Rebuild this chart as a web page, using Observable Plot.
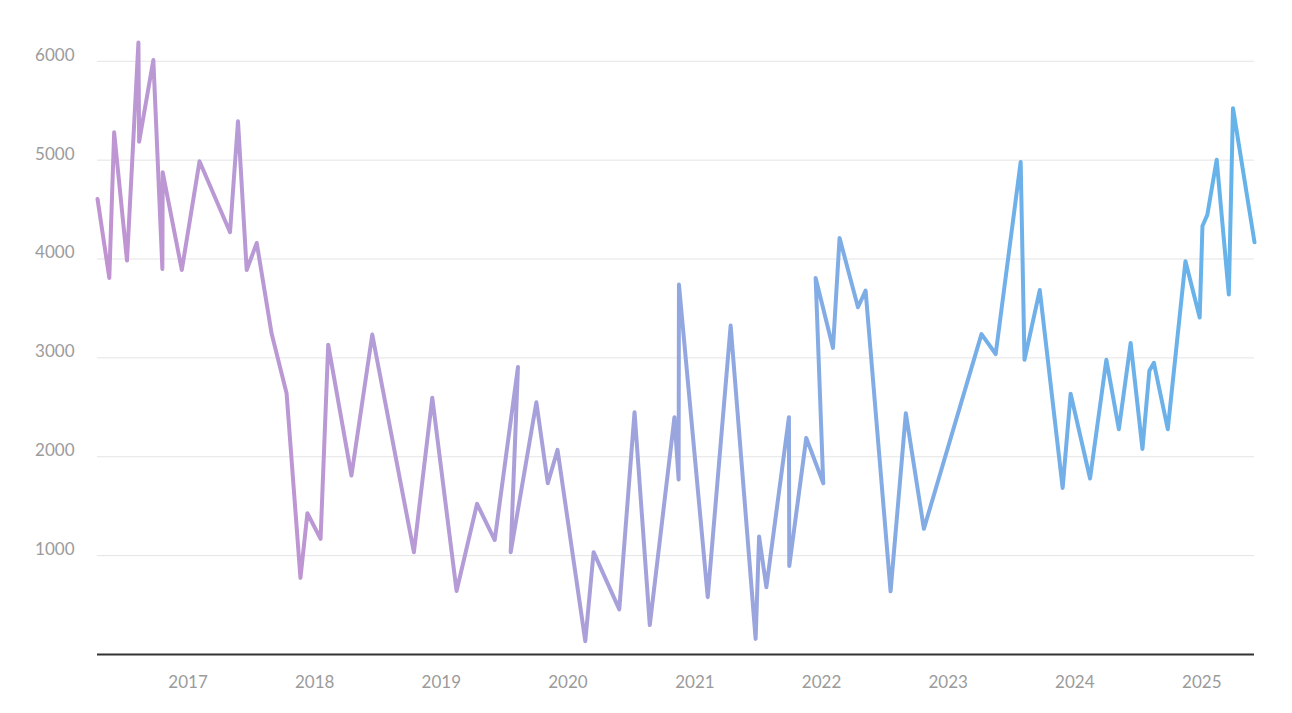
<!DOCTYPE html>
<html>
<head>
<meta charset="utf-8">
<script src="https://cdn.jsdelivr.net/npm/d3@7"></script>
<script src="https://cdn.jsdelivr.net/npm/@observablehq/plot@0.6"></script>
<style>
  html, body { margin: 0; padding: 0; background: #ffffff; }
  #chart svg { display: block; }
</style>
</head>
<body>
<div id="chart"></div>
<script>
// Observation dates (order as drawn) and values
const dates = [
  "2016-04-15","2016-05-19","2016-06-02","2016-07-09","2016-08-11","2016-08-13","2016-09-23","2016-10-19","2016-10-20","2016-12-14",
  "2017-02-03","2017-05-02","2017-05-25","2017-06-19","2017-07-18","2017-08-30","2017-10-12","2017-11-21","2017-12-11",
  "2018-01-18","2018-02-09","2018-04-17","2018-06-16","2018-10-14","2018-12-06",
  "2019-02-14","2019-04-14","2019-06-04","2019-08-10","2019-07-20","2019-10-02","2019-11-04","2019-12-02",
  "2020-02-20","2020-03-15","2020-05-28","2020-07-11","2020-08-24","2020-11-03","2020-11-15","2020-11-16",
  "2021-02-07","2021-04-14","2021-06-25","2021-07-05","2021-07-26","2021-09-29","2021-09-30","2021-11-18","2022-01-06","2021-12-15",
  "2022-02-03","2022-02-22","2022-04-16","2022-05-08","2022-07-19","2022-09-01","2022-10-23",
  "2023-04-07","2023-05-18","2023-07-29","2023-08-09","2023-09-22","2023-11-27","2023-12-20",
  "2024-02-14","2024-04-01","2024-05-07","2024-06-10","2024-07-14","2024-08-03","2024-08-16","2024-09-25","2024-11-15","2024-12-26",
  "2025-01-03","2025-01-17","2025-02-13","2025-03-20","2025-04-01","2025-06-02"
];
const values = [
  4608,3809,5281,3984,6191,5187,6013,3900,4877,3889,
  4988,4271,5393,3889,4162,3243,2643,775,1429,
  1170,3134,1810,3236,1035,2596,
  642,1524,1158,2908,1035,2551,1732,2070,
  135,1035,457,2451,298,2400,1771,3741,
  580,3327,158,1193,681,2400,895,2191,1732,3809,
  3101,4213,3512,3680,640,2440,1271,
  3240,3039,4982,2981,3686,1685,2637,
  1780,2981,2279,3151,2079,2870,2950,2279,3977,3409,
  4334,4446,5004,3641,5526,4169
];
const yTicks = [1000, 2000, 3000, 4000, 5000, 6000];
const xTickYears = [2017, 2018, 2019, 2020, 2021, 2022, 2023, 2024, 2025];
const gradientStops = [
  [0, "#c590cf"],
  [0.22, "#b79bd6"],
  [0.42, "#a0a3dc"],
  [0.6, "#86abe4"],
  [0.8, "#70b0e9"],
  [1, "#66b3ea"]
];

const data = dates.map((d, i) => ({date: new Date(d), value: values[i]}));
const xTicks = xTickYears.map(y => new Date(Date.UTC(y, 0, 1)));

const plot = Plot.plot({
  width: 1292,
  height: 713,
  marginLeft: 97,
  marginRight: 38,
  marginTop: 41,
  marginBottom: 59,
  style: {fontFamily: "Lato, 'Noto Sans', sans-serif", fontSize: "17px", background: "#ffffff", overflow: "visible"},
  x: {type: "utc", domain: d3.extent(data, d => d.date)},
  y: {domain: [0, 6200]},
  marks: [
    Plot.gridY(yTicks, {stroke: "#e4e4e4", strokeOpacity: 1, strokeWidth: 1}),
    Plot.ruleY([0], {stroke: "#333333", strokeWidth: 2}),
    Plot.line(data, {x: "date", y: "value", stroke: "url(#lineGrad)", strokeWidth: 4, strokeLinejoin: "round", strokeLinecap: "round"}),
    Plot.axisY(yTicks, {tickSize: 0, tickPadding: 23, dy: -6, tickFormat: d3.format("d"), fill: "#9b9b9b", fontSize: 17, label: null}),
    Plot.axisX(xTicks, {tickSize: 0, tickPadding: 21, tickFormat: d3.utcFormat("%Y"), fill: "#9b9b9b", fontSize: 17, label: null})
  ]
});

// linear gradient for the line stroke
const ns = "http://www.w3.org/2000/svg";
const defs = document.createElementNS(ns, "defs");
const grad = document.createElementNS(ns, "linearGradient");
grad.setAttribute("id", "lineGrad");
grad.setAttribute("x1", "0");
grad.setAttribute("y1", "0.62");
grad.setAttribute("x2", "1");
grad.setAttribute("y2", "0.38");
for (const [offset, color] of gradientStops) {
  const s = document.createElementNS(ns, "stop");
  s.setAttribute("offset", offset);
  s.setAttribute("stop-color", color);
  grad.appendChild(s);
}
defs.appendChild(grad);
plot.insertBefore(defs, plot.firstChild);

document.getElementById("chart").appendChild(plot);
</script>
</body>
</html>
